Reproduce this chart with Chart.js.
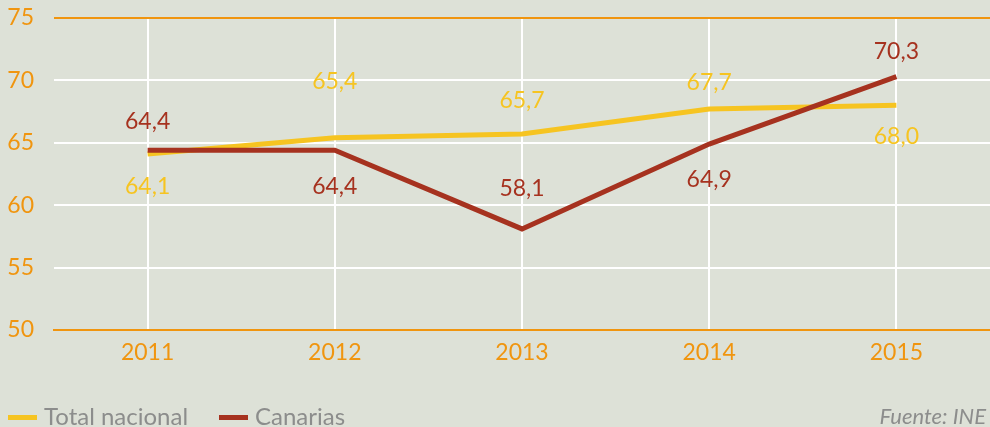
<!DOCTYPE html>
<html>
<head>
<meta charset="utf-8">
<script src="https://cdn.jsdelivr.net/npm/chart.js@4/dist/chart.umd.min.js"></script>
<style>
  html, body { margin: 0; padding: 0; background: #dde1d7; }
  #wrap { width: 990px; height: 427px; position: relative; }
</style>
</head>
<body>
<div id="wrap"><canvas id="grafico"></canvas></div>
<script>
var anios = ['2011', '2012', '2013', '2014', '2015'];
var totalNacional = [64.1, 65.4, 65.7, 67.7, 68.0];
var canarias = [64.4, 64.4, 58.1, 64.9, 70.3];
var ticksY = [50, 55, 60, 65, 70, 75];

var NARANJA = '#f0950f';
var AMARILLO = '#f6c421';
var ROJO = '#a6321f';
var GRIS = '#8c8d8c';
var FUENTE = 'Lato, "Open Sans", sans-serif';

// desplazamiento vertical (px) de cada etiqueta respecto a su punto
var desplTotal = [33, -56, -33, -27, 31];
var desplCanarias = [-29, 36, -40, 36, -25];

// etiquetas de valor, leyenda y fuente
var etiquetasPlugin = {
  id: 'etiquetas',
  afterDatasetsDraw: function(chart) {
    var ctx = chart.ctx;
    ctx.save();
    ctx.font = '23px ' + FUENTE;
    ctx.textAlign = 'center';
    ctx.textBaseline = 'middle';
    chart.data.datasets.forEach(function(ds, i) {
      var meta = chart.getDatasetMeta(i);
      ctx.fillStyle = ds.borderColor;
      meta.data.forEach(function(p, j) {
        var txt = ds.data[j].toFixed(1).replace('.', ',');
        ctx.fillText(txt, p.x, p.y + ds.despl[j]);
      });
    });

    // leyenda
    var leyenda = [chart.data.datasets[1], chart.data.datasets[0]];
    var xs = [8, 219];
    ctx.font = '24px ' + FUENTE;
    ctx.textAlign = 'left';
    ctx.textBaseline = 'alphabetic';
    leyenda.forEach(function(ds, k) {
      ctx.fillStyle = ds.borderColor;
      ctx.fillRect(xs[k], 415, 29, 5);
      ctx.fillStyle = GRIS;
      ctx.fillText(ds.label, xs[k] + 36, 425);
    });

    ctx.font = 'italic 22px ' + FUENTE;
    ctx.textAlign = 'right';
    ctx.fillText('Fuente: INE', 986, 424);
    ctx.restore();
  }
};

new Chart(document.getElementById('grafico').getContext('2d'), {
  type: 'line',
  data: {
    labels: anios,
    datasets: [{
        label: 'Canarias',
        data: canarias,
        despl: desplCanarias,
        borderColor: ROJO,
        backgroundColor: ROJO,
        borderWidth: 5,
        pointRadius: 0,
        tension: 0,
        fill: false,
        order: 0
      }, {
        label: 'Total nacional',
        data: totalNacional,
        despl: desplTotal,
        borderColor: AMARILLO,
        backgroundColor: AMARILLO,
        borderWidth: 5,
        pointRadius: 0,
        tension: 0,
        fill: false,
        order: 1
      }
    ]
  },
  options: {
    responsive: true,
    maintainAspectRatio: false,
    animation: false,
    layout: { padding: { top: 18, right: 0, bottom: 0, left: 0 } },
    plugins: {
      legend: { display: false },
      tooltip: { enabled: false }
    },
    scales: {
      x: {
        offset: true,
        grid: { color: '#ffffff', lineWidth: 2, drawTicks: false, offset: false },
        border: { display: true, color: NARANJA, width: 2 },
        ticks: { color: NARANJA, font: { family: FUENTE, size: 23 }, padding: 9 },
        afterFit: function(scale) { scale.height = 97; }
      },
      y: {
        min: 50,
        max: 75,
        afterBuildTicks: function(scale) {
          scale.ticks = ticksY.map(function(v) { return { value: v }; });
        },
        grid: {
          color: function(c) {
            return (c.tick && (c.tick.value === 75 || c.tick.value === 50)) ? NARANJA : '#ffffff';
          },
          lineWidth: 2,
          drawTicks: false
        },
        border: { display: false },
        ticks: { color: NARANJA, font: { family: FUENTE, size: 23 }, padding: 20 },
        afterFit: function(scale) {
          scale.width = 54;
          scale.paddingTop = 0;
          scale.paddingBottom = 0;
        }
      }
    }
  },
  plugins: [etiquetasPlugin]
});
</script>
</body>
</html>
